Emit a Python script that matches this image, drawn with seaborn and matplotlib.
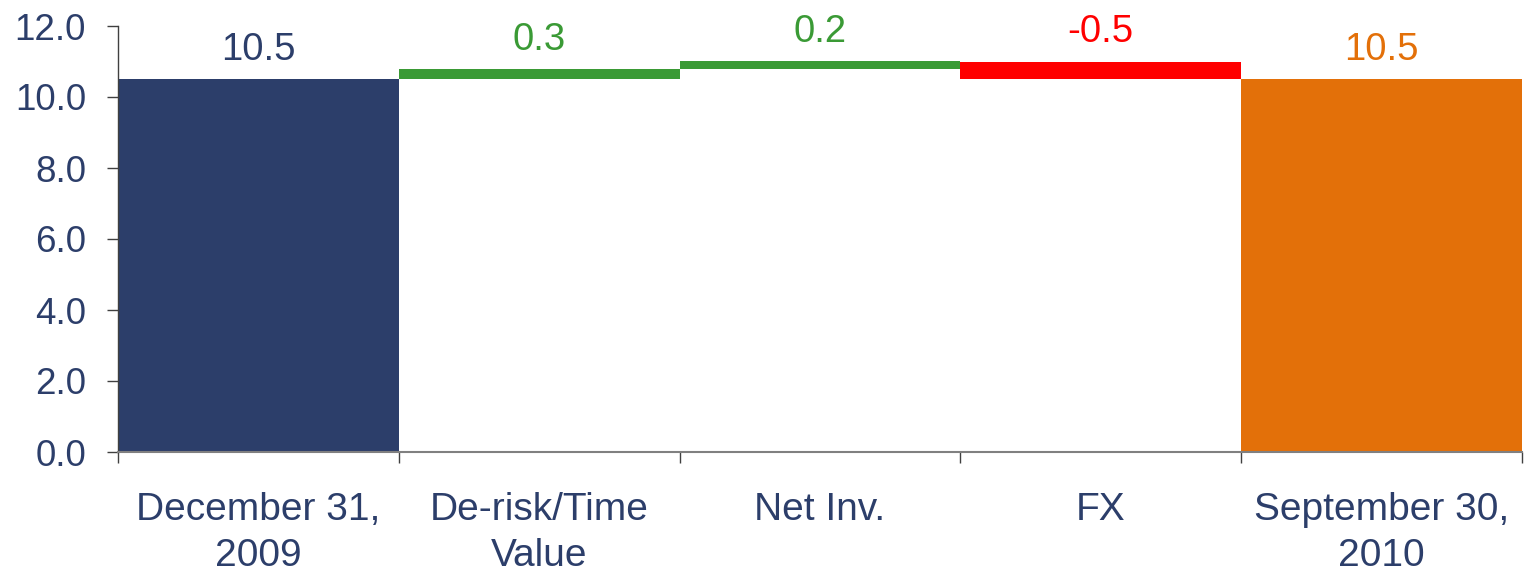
import matplotlib
matplotlib.use("Agg")
import matplotlib.pyplot as plt
import seaborn as sns
import pandas as pd
import numpy as np

# ---- data ----
categories = ["December 31,\n2009", "De-risk/Time\nValue", "Net Inv.", "FX", "September 30,\n2010"]
changes = [10.5, 0.28, 0.22, -0.5, 10.5]
is_total = [True, False, False, False, True]
bar_colors = ["#2C3E6A", "#3A9A35", "#3A9A35", "#FF0000", "#E37009"]
y_ticks = [0, 2, 4, 6, 8, 10, 12]

# waterfall bottoms/heights
bottoms = []
running = 0.0
for v, tot in zip(changes, is_total):
    if tot:
        bottoms.append(0.0)
        running = v
    else:
        if v >= 0:
            bottoms.append(running)
        else:
            bottoms.append(running + v)
        running += v
heights = [abs(v) for v in changes]
df = pd.DataFrame({"cat": categories, "height": heights, "bottom": bottoms, "change": changes})

sns.set_theme(style="white")
plt.rcParams["font.family"] = ["Liberation Sans", "DejaVu Sans"]
text_color = "#2C3E6A"

fig = plt.figure(figsize=(15.24, 5.73), dpi=100)
ax = fig.add_axes([118 / 1524, (573 - 452) / 573, (1522 - 118) / 1524, (452 - 26) / 573])

sns.barplot(data=df, x="cat", y="height", order=categories, bottom=df["bottom"].values,
            color=bar_colors[0], width=1.0, linewidth=0, ax=ax, errorbar=None)
for patch, c in zip(ax.patches, bar_colors):
    patch.set_facecolor(c)
    patch.set_edgecolor("none")

ax.set_xlim(-0.5, len(categories) - 0.5)
ax.set_ylim(0, 12)
ax.set_yticks(y_ticks)
ax.set_yticklabels([f"{t:.1f}" for t in y_ticks])
ax.set_xlabel("")
ax.set_ylabel("")

ax.set_xticks(range(len(categories)))
ax.set_xticklabels(categories, linespacing=1.36)
ax.set_xticks(np.arange(-0.5, len(categories), 1.0), minor=True)
ax.tick_params(axis="x", which="major", length=0, pad=29, labelsize=28, labelcolor=text_color)
ax.tick_params(axis="x", which="minor", length=8, width=1, color="#404040", direction="out", bottom=True)
ax.tick_params(axis="y", which="major", length=8, width=1, color="#404040", direction="out",
               left=True, pad=15, labelsize=26.5, labelcolor=text_color)

for s in ["top", "right"]:
    ax.spines[s].set_visible(False)
ax.spines["left"].set_color("#404040")
ax.spines["left"].set_linewidth(1)
ax.spines["bottom"].set_color("#808080")
ax.spines["bottom"].set_linewidth(1.5)

# data labels
for i, (b, h, v) in enumerate(zip(bottoms, heights, changes)):
    top = b + h
    ax.annotate(f"{v:.1f}", xy=(i, top), xytext=(0, 14), textcoords="offset points",
                ha="center", va="baseline", fontsize=27.5, color=bar_colors[i])

fig.savefig("out.png", dpi=100, facecolor="white")
